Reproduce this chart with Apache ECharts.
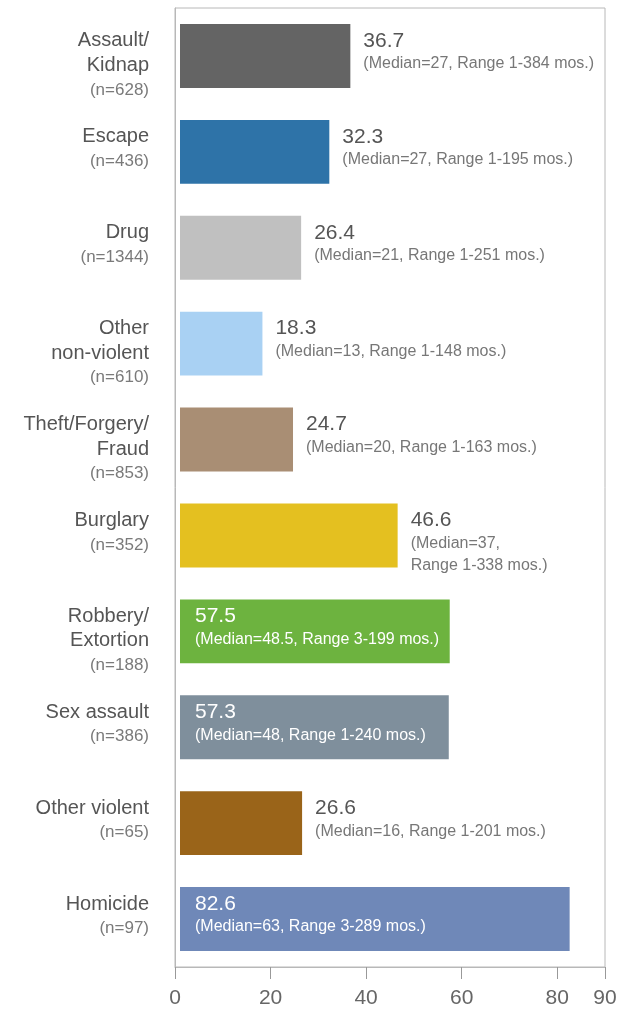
<!DOCTYPE html>
<html>
<head>
<meta charset="utf-8">
<title>Average months served by offense</title>
<script src="https://cdn.jsdelivr.net/npm/echarts@6/dist/echarts.min.js"></script>
<style>
  html, body { margin: 0; padding: 0; background: #ffffff; }
  #chart { width: 629px; height: 1009px; }
</style>
</head>
<body>
<div id="chart"></div>
<script>
// Offense categories, top to bottom
const categories = [
  'Assault/\nKidnap', 'Escape', 'Drug', 'Other\nnon-violent', 'Theft/Forgery/\nFraud',
  'Burglary', 'Robbery/\nExtortion', 'Sex assault', 'Other violent', 'Homicide'
];
const counts       = [628, 436, 1344, 610, 853, 352, 188, 386, 65, 97];
const meanMonths   = [36.7, 32.3, 26.4, 18.3, 24.7, 46.6, 57.5, 57.3, 26.6, 82.6];
const medianMonths = [27, 27, 21, 13, 20, 37, 48.5, 48, 16, 63];
const rangeLow     = [1, 1, 1, 1, 1, 1, 3, 1, 1, 3];
const rangeHigh    = [384, 195, 251, 148, 163, 338, 199, 240, 201, 289];
const tickValues   = [0, 20, 40, 60, 80, 90];

const barColors = ['#646464', '#2e73a8', '#c0c0c0', '#a9d1f3', '#a98e74',
                   '#e4c020', '#6db33f', '#7f8f9c', '#9a6419', '#6f88b8'];

const FONT = '"Liberation Sans", Arial, Helvetica, sans-serif';
const frameColor = '#b8b8b8';

// text measuring, used to wrap the detail line when it would run past the frame
const measureCtx = document.createElement('canvas').getContext('2d');
function textWidth(str, size) {
  measureCtx.font = size + 'px ' + FONT;
  return measureCtx.measureText(str).width;
}

const chart = echarts.init(document.getElementById('chart'), null, { renderer: 'canvas' });

chart.setOption({
  animation: false,
  backgroundColor: '#ffffff',
  grid: {
    left: 175, right: 24, top: 8, bottom: 41,
    show: true, borderColor: frameColor, borderWidth: 1, backgroundColor: 'transparent'
  },
  xAxis: {
    type: 'value',
    min: tickValues[0],
    max: tickValues[tickValues.length - 1],
    interval: 20,
    splitLine: { show: false },
    axisLine: { show: true, lineStyle: { color: frameColor, width: 1 } },
    axisTick: { show: true, length: 12, customValues: tickValues, lineStyle: { color: '#999999', width: 1 } },
    axisLabel: {
      customValues: tickValues,
      margin: 21, fontSize: 21, color: '#666666', fontFamily: FONT
    }
  },
  yAxis: {
    type: 'category',
    data: categories,
    inverse: true,
    axisLine: { show: true, lineStyle: { color: frameColor, width: 1 } },
    axisTick: { show: false },
    splitLine: { show: false },
    axisLabel: {
      margin: 26,
      align: 'right',
      verticalAlign: 'middle',
      padding: [19, 0, 0, 0],
      fontFamily: FONT,
      formatter: function (value, idx) {
        const lines = value.split('\n').map(s => '{name|' + s + '}');
        lines.push('{n|(n=' + counts[idx] + ')}');
        while (lines.length < 3) lines.push('{n| }');
        return lines.join('\n');
      },
      rich: {
        name: { fontSize: 20, lineHeight: 24.5, color: '#555555', fontFamily: FONT, align: 'right' },
        n:    { fontSize: 17, lineHeight: 24.5, color: '#7a7a7a', fontFamily: FONT, align: 'right' }
      }
    }
  },
  series: [{
    type: 'custom',
    clip: false,
    encode: { x: 0, y: 1 },
    data: meanMonths.map((v, i) => [v, i]),
    renderItem: function (params, api) {
      const i = params.dataIndex;
      const v = api.value(0);
      const base = api.coord([0, i]);
      const end = api.coord([v, i]);
      const band = api.size([0, 1])[1];
      const h = band * 2 / 3;
      const x0 = base[0] + 5;
      const cy = base[1];
      const inside = v > 50;
      const labelX = inside ? x0 + 15 : end[0] + 13;
      const gridRight = params.coordSys.x + params.coordSys.width;

      let detail = '(Median=' + medianMonths[i] + ', Range ' + rangeLow[i] + '-' + rangeHigh[i] + ' mos.)';
      if (labelX + textWidth(detail, 16) > gridRight - 2) {
        detail = detail.replace(', ', ',\n');
      }

      return {
        type: 'group',
        children: [
          {
            type: 'rect',
            shape: { x: x0, y: cy - h / 2, width: end[0] - x0, height: h },
            style: { fill: barColors[i] }
          },
          {
            type: 'text',
            x: labelX, y: cy - 27,
            style: {
              text: String(v), fontSize: 21, fontFamily: FONT, lineHeight: 24,
              fill: inside ? '#ffffff' : '#555555', verticalAlign: 'top', align: 'left'
            }
          },
          {
            type: 'text',
            x: labelX, y: cy - 3,
            style: {
              text: detail, fontSize: 16, fontFamily: FONT, lineHeight: 22,
              fill: inside ? '#ffffff' : '#777777', verticalAlign: 'top', align: 'left'
            }
          }
        ]
      };
    }
  }]
});
</script>
</body>
</html>
